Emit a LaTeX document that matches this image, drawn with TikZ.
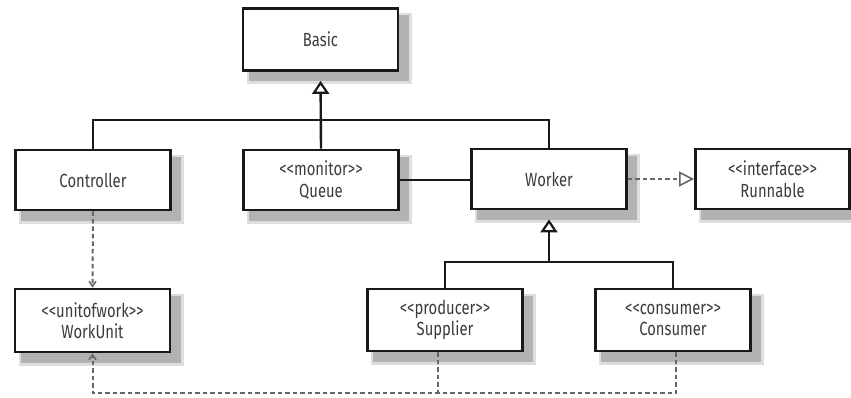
\documentclass[tikz,border=0pt]{standalone}
\usepackage{fontspec}
\newfontfamily\labfont{Fira Sans}[FakeStretch=0.78]
\usetikzlibrary{arrows.meta}
\definecolor{shadowA}{RGB}{222,222,222}
\definecolor{shadowB}{RGB}{178,178,178}
\definecolor{inkgrey}{RGB}{60,60,60}
\newcommand\stereo[1]{<{}<#1>{}>}
% shadow: centre x, centre y, half width, half height
\newcommand\shad[4]{%
  \path[fill=shadowA] (#1-#3+5,#2-#4+6) rectangle (#1+#3+12,#2+#4+13);
  \path[fill=shadowB] (#1-#3+7,#2-#4+8) rectangle (#1+#3+9,#2+#4+10);}
\begin{document}
\begin{tikzpicture}[x=1pt,y=-1pt,
  cls/.style={draw=black!90, line width=2.8pt, fill=white, inner sep=0pt,
    minimum width=155pt, minimum height=60pt, align=center,
    font=\labfont\fontsize{19}{21.5}\selectfont, text=inkgrey},
  link/.style={draw=black!90, line width=2.4pt},
  inherit/.style={link, -{Triangle[open, length=13pt, width=17pt, line width=2.2pt]}, shorten >=9pt},
  dep/.style={draw=black!60, line width=2pt, dash pattern=on 4.5pt off 3pt},
  realize/.style={dep, -{Triangle[open, length=15pt, width=15pt, line width=1.6pt]}},
  use/.style={dep, -{Straight Barb[length=5pt, width=7pt, line width=1.5pt]}}
]
\useasboundingbox (0,0) rectangle (851,398);
\shad{320.5}{39.5}{79}{32}
\shad{93}{180}{79}{31}
\shad{321}{180}{79}{31}
\shad{549}{179}{79}{31}
\shad{772.5}{179}{78.5}{31}
\shad{92.5}{320.5}{79}{32.5}
\shad{445}{320}{79}{32}
\shad{673}{320}{79}{32}
\node[cls, minimum height=62pt] (basic) at (320.5,39.5) {Basic};
\node[cls] (controller) at (93,180) {Controller};
\node[cls] (queue) at (321,180) {\stereo{monitor}\\Queue};
\node[cls] (worker) at (549,179) {Worker};
\node[cls, minimum width=154pt] (runnable) at (772.5,179) {\stereo{interface}\\Runnable};
\node[cls, minimum height=63pt] (workunit) at (92.5,320.5) {\stereo{unitofwork}\\WorkUnit};
\node[cls, minimum height=62pt] (supplier) at (445,320) {\stereo{producer}\\Supplier};
\node[cls, minimum height=62pt] (consumer) at (673,320) {\stereo{consumer}\\Consumer};
\coordinate (bus1) at (321,120);
\coordinate (bus2) at (549,262);
\coordinate (bot) at (0,393);
% inheritance from Basic
\draw[link] (controller.north) |- (bus1) -| (worker.north);
\draw[inherit] (queue.north) -- (basic.south);
% inheritance from Worker
\draw[link] (supplier.north) |- (bus2) -| (consumer.north);
\draw[inherit] (bus2) -- (worker.south);
% association
\draw[link] (queue.east) -- (queue.east -| worker.west);
% realization
\draw[realize] (worker.east) -- (runnable.west);
% dependencies
\draw[use] (controller.south) -- (workunit.north);
\coordinate (sdep) at (438,352);
\coordinate (cdep) at (676,352);
\draw[use] (cdep) |- (workunit.south |- bot) -- (workunit.south);
\draw[dep] (sdep) -- (sdep |- bot);
\end{tikzpicture}
\end{document}
